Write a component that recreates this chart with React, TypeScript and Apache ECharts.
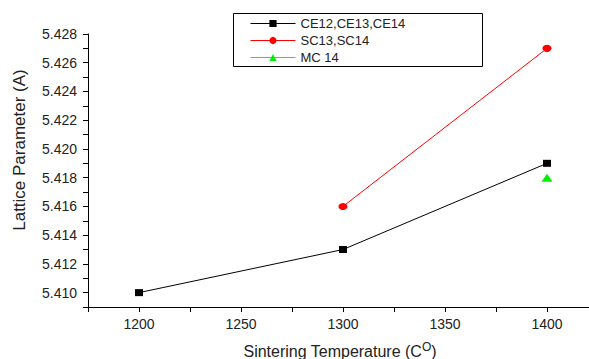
import React, { useEffect, useRef } from "react";
import * as echarts from "echarts";

const temps = [1200, 1300, 1400];
const ceValues = [5.41, 5.413, 5.419];
const scTemps = [1300, 1400];
const scValues = [5.416, 5.427];
const mcTemps = [1400];
const mcValues = [5.418];
const seriesNames = ["CE12,CE13,CE14", "SC13,SC14", "MC 14"];

const FONT = "Liberation Sans, Arial, sans-serif";

export default function App() {
  const ref = useRef<HTMLDivElement>(null);
  useEffect(() => {
    if (!ref.current) return;
    const chart = echarts.init(ref.current, null, { renderer: "svg" });
    chart.setOption({
      animation: false,
      backgroundColor: "#fff",
      textStyle: { fontFamily: FONT },
      grid: { left: 88, top: 34, width: 510, bottom: 52, outerBoundsMode: "none", containLabel: false },
      xAxis: {
        type: "value",
        min: 1175,
        max: 1425,
        interval: 25,
        axisLine: { lineStyle: { color: "#000", width: 1 } },
        axisTick: { show: true, length: 5, lineStyle: { color: "#000" } },
        splitLine: { show: false },
        axisLabel: {
          color: "#222",
          fontSize: 14,
          fontFamily: FONT,
          margin: 10,
          formatter: (v: number) => (Math.round(v) % 50 === 0 ? String(Math.round(v)) : ""),
        },
      },
      yAxis: {
        type: "value",
        min: 5.409,
        max: 5.428,
        interval: 0.001,
        axisLine: { show: true, lineStyle: { color: "#000", width: 1 } },
        axisTick: { show: true, length: 5, lineStyle: { color: "#000" } },
        splitLine: { show: false },
        axisLabel: {
          color: "#222",
          fontSize: 14,
          fontFamily: FONT,
          margin: 11,
          formatter: (v: number) => {
            const k = Math.round(v * 1000);
            return k % 2 === 0 ? (k / 1000).toFixed(3) : "";
          },
        },
      },
      legend: {
        orient: "vertical",
        left: 250,
        top: 17,
        padding: 0,
        itemWidth: 45,
        itemHeight: 9,
        itemGap: 4,
        selectedMode: false,
        lineStyle: { width: 1 },
        textStyle: { fontSize: 13, color: "#222", fontFamily: FONT },
        data: seriesNames,
      },
      graphic: [
        {
          type: "rect",
          shape: { x: 233.5, y: 13.5, width: 249, height: 53 },
          style: { fill: "none", stroke: "#000", lineWidth: 1 },
          z: 1,
        },
        {
          type: "text",
          x: 19,
          y: 150,
          rotation: Math.PI / 2,
          style: {
            text: "Lattice Parameter (A)",
            fontSize: 17,
            fontFamily: FONT,
            fill: "#222",
            textAlign: "center",
            textVerticalAlign: "middle",
          },
        },
        {
          type: "text",
          x: 340,
          y: 351,
          style: {
            text: "Sintering Temperature (C{sup|O})",
            fontSize: 16,
            fontFamily: FONT,
            fill: "#222",
            textAlign: "center",
            textVerticalAlign: "middle",
            rich: {
              sup: { fontSize: 12, fontFamily: FONT, fill: "#222", verticalAlign: "top", padding: [0, 0, 8, 0] },
            },
          },
        },
      ],
      series: [
        {
          name: seriesNames[0],
          type: "line",
          data: temps.map((t, i) => [t, ceValues[i]]),
          symbol: "rect",
          symbolSize: [8, 7],
          itemStyle: { color: "#000" },
          lineStyle: { color: "#000", width: 1 },
        },
        {
          name: seriesNames[1],
          type: "line",
          data: scTemps.map((t, i) => [t, scValues[i]]),
          symbol: "circle",
          symbolSize: [9, 7],
          itemStyle: { color: "#ff0000" },
          lineStyle: { color: "#ff0000", width: 1 },
        },
        {
          name: seriesNames[2],
          type: "line",
          data: mcTemps.map((t, i) => [t, mcValues[i]]),
          symbol: "triangle",
          symbolSize: [11, 8],
          itemStyle: { color: "#00ee00" },
          lineStyle: { color: "#00ff00", width: 1 },
        },
      ],
    });
    return () => chart.dispose();
  }, []);
  return (
    <div
      ref={ref}
      style={{ position: "fixed", left: 0, top: 0, width: 589, height: 359, background: "#fff" }}
    />
  );
}
